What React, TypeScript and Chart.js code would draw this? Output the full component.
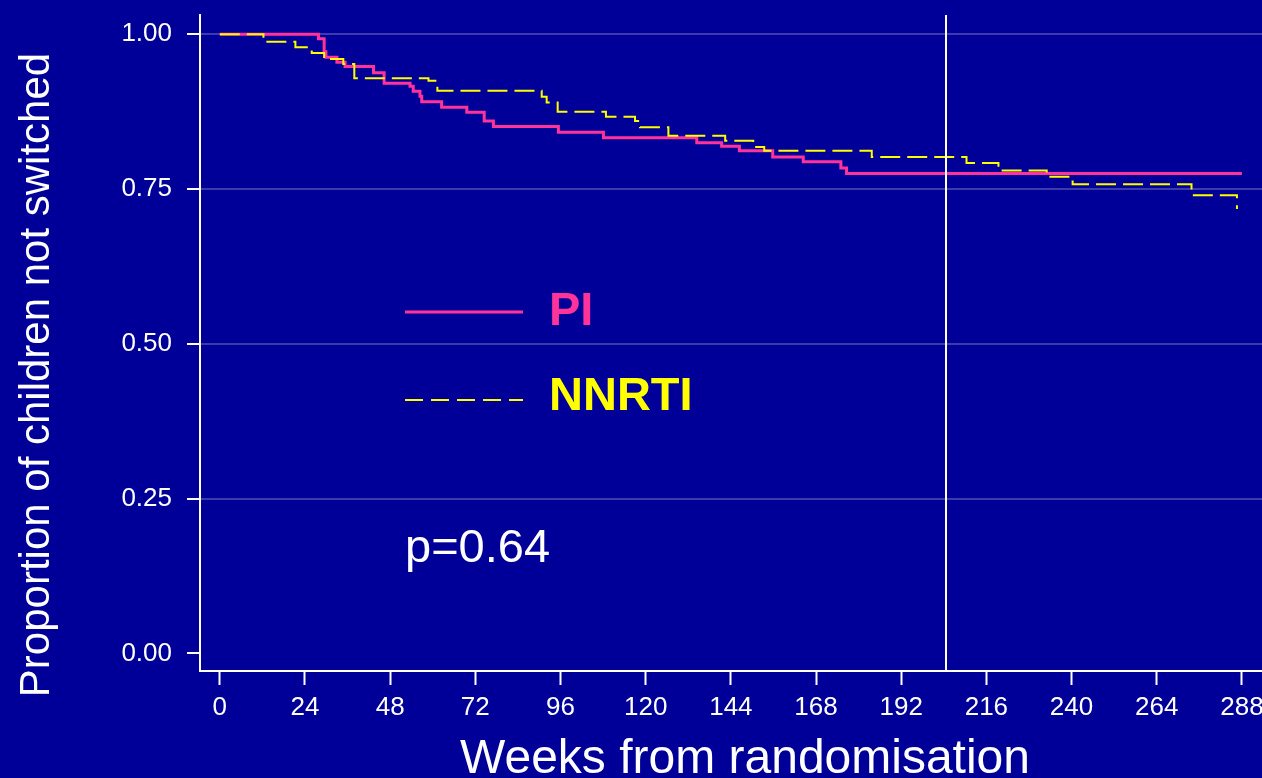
import React, { useEffect, useRef } from "react";
import { Chart, registerables } from "chart.js";

Chart.register(...registerables);

// Kaplan–Meier estimates: week of each step and survival after it
const PI_WEEKS = [0, 27.8, 29.4, 29.9, 33.0, 35.3, 43.3, 46.3, 53.6, 54.5, 56.4, 56.9, 62.5, 69.6, 74.5, 77.1, 95.4, 108.1, 134.4, 141.4, 146.4, 155.8, 164.4, 175.0, 176.6, 288];
const PI_SURV = [1.0, 0.993, 0.972, 0.963, 0.955, 0.948, 0.938, 0.921, 0.916, 0.908, 0.9, 0.891, 0.882, 0.874, 0.86, 0.851, 0.842, 0.833, 0.825, 0.819, 0.812, 0.802, 0.794, 0.784, 0.775, 0.775];

const NNRTI_WEEKS = [0, 12.3, 21.3, 25.9, 29.4, 34.8, 37.9, 58.8, 61.3, 90.7, 92.1, 95.2, 108.8, 117.0, 118.4, 126.4, 142.4, 150.3, 153.4, 183.7, 210.4, 219.4, 233.0, 240.3, 273.8, 286.6];
const NNRTI_SURV = [1.0, 0.988, 0.979, 0.97, 0.96, 0.952, 0.929, 0.925, 0.909, 0.899, 0.89, 0.875, 0.867, 0.86, 0.85, 0.836, 0.828, 0.818, 0.812, 0.802, 0.792, 0.78, 0.77, 0.758, 0.74, 0.718];

const X_TICKS = [0, 24, 48, 72, 96, 120, 144, 168, 192, 216, 240, 264, 288];
const Y_TICKS = [0, 0.25, 0.5, 0.75, 1.0];

const REF_WEEK = 204.6;
const P_VALUE = "0.64";

const X_MIN = -5.58;
const X_MAX = 293.66;
const Y_MIN = -0.0284;
const Y_MAX = 1.0312;

const BG = "#000099";
const PI_COLOR = "#ff3399";
const NNRTI_COLOR = "#ffff00";
const GRID_COLOR = "rgba(130,130,200,0.45)";
const FONT = "'Liberation Sans', Arial, Helvetica, sans-serif";

const overlay = {
  id: "kmOverlay",
  afterDatasetsDraw(chart: any) {
    const { ctx, chartArea, scales } = chart;
    const x = scales.x;
    ctx.save();
    // reference week marker
    const vx = Math.round(x.getPixelForValue(REF_WEEK));
    ctx.strokeStyle = "#ffffff";
    ctx.lineWidth = 2;
    ctx.beginPath();
    ctx.moveTo(vx, chartArea.top);
    ctx.lineTo(vx, chartArea.bottom);
    ctx.stroke();
    ctx.restore();
  },
  afterDraw(chart: any) {
    const { ctx } = chart;
    ctx.save();

    // legend
    ctx.lineWidth = 3;
    ctx.strokeStyle = PI_COLOR;
    ctx.beginPath();
    ctx.moveTo(405, 312);
    ctx.lineTo(523, 312);
    ctx.stroke();

    ctx.lineWidth = 2;
    ctx.strokeStyle = NNRTI_COLOR;
    ctx.setLineDash([18, 8]);
    ctx.beginPath();
    ctx.moveTo(405, 400);
    ctx.lineTo(523, 400);
    ctx.stroke();
    ctx.setLineDash([]);

    ctx.textAlign = "left";
    ctx.textBaseline = "alphabetic";
    ctx.font = `bold 47px ${FONT}`;
    ctx.fillStyle = PI_COLOR;
    ctx.fillText("PI", 549, 325);
    ctx.fillStyle = NNRTI_COLOR;
    ctx.fillText("NNRTI", 549, 410);

    ctx.font = `47px ${FONT}`;
    ctx.fillStyle = "#ffffff";
    ctx.fillText(`p=${P_VALUE}`, 405, 562);

    // axis titles
    ctx.font = `48px ${FONT}`;
    ctx.textAlign = "center";
    ctx.fillText("Weeks from randomisation", 745, 773);

    ctx.save();
    ctx.translate(49, 375);
    ctx.rotate(-Math.PI / 2);
    ctx.font = `42px ${FONT}`;
    ctx.fillText("Proportion of children not switched", 0, 0);
    ctx.restore();

    ctx.restore();
  },
};

export default function App() {
  const canvasRef = useRef<HTMLCanvasElement | null>(null);

  useEffect(() => {
    const canvas = canvasRef.current;
    if (!canvas) return;
    const chart = new Chart(canvas, {
      type: "line",
      data: {
        datasets: [
          {
            label: "PI",
            data: PI_WEEKS.map((w, i) => ({ x: w, y: PI_SURV[i] })),
            borderColor: PI_COLOR,
            borderWidth: 3,
            stepped: "before",
            pointRadius: 0,
            fill: false,
            order: 1,
          },
          {
            label: "NNRTI",
            data: NNRTI_WEEKS.map((w, i) => ({ x: w, y: NNRTI_SURV[i] })),
            borderColor: NNRTI_COLOR,
            borderWidth: 2,
            borderDash: [20, 7],
            stepped: "before",
            pointRadius: 0,
            fill: false,
            order: 0,
          },
        ],
      },
      options: {
        animation: false,
        responsive: false,
        layout: { padding: { top: 15, right: 0, bottom: 0, left: 0 } },
        plugins: { legend: { display: false }, tooltip: { enabled: false } },
        scales: {
          x: {
            type: "linear",
            min: X_MIN,
            max: X_MAX,
            afterBuildTicks: (s: any) => {
              s.ticks = X_TICKS.map((v) => ({ value: v }));
            },
            afterFit: (s: any) => {
              s.height = 107;
              s.paddingLeft = 0;
              s.paddingRight = 0;
            },
            grid: {
              drawOnChartArea: false,
              drawTicks: true,
              tickLength: 14,
              tickColor: "#ffffff",
              tickWidth: 2,
            },
            border: { display: true, color: "#ffffff", width: 2 },
            ticks: {
              color: "#ffffff",
              font: { family: FONT, size: 26 },
              padding: 7,
              maxRotation: 0,
              autoSkip: false,
              callback: (v: any) => String(v),
            },
          },
          y: {
            type: "linear",
            min: Y_MIN,
            max: Y_MAX,
            afterBuildTicks: (s: any) => {
              s.ticks = Y_TICKS.map((v) => ({ value: v }));
            },
            afterFit: (s: any) => {
              s.width = 200;
              s.paddingTop = 0;
              s.paddingBottom = 0;
            },
            grid: {
              drawOnChartArea: true,
              color: (c: any) => (c.tick && c.tick.value === 0 ? "rgba(0,0,0,0)" : GRID_COLOR),
              lineWidth: 2,
              drawTicks: true,
              tickLength: 13,
              tickColor: "#ffffff",
              tickWidth: 2,
            },
            border: { display: true, color: "#ffffff", width: 2 },
            ticks: {
              color: "#ffffff",
              font: { family: FONT, size: 26 },
              padding: 15,
              callback: (v: any) => Number(v).toFixed(2),
            },
          },
        },
      },
      plugins: [overlay],
    } as any);
    return () => chart.destroy();
  }, []);

  return (
    <div
      style={{
        position: "fixed",
        left: 0,
        top: 0,
        width: 1262,
        height: 778,
        background: BG,
      }}
    >
      <canvas ref={canvasRef} width={1262} height={778} style={{ display: "block" }} />
    </div>
  );
}
